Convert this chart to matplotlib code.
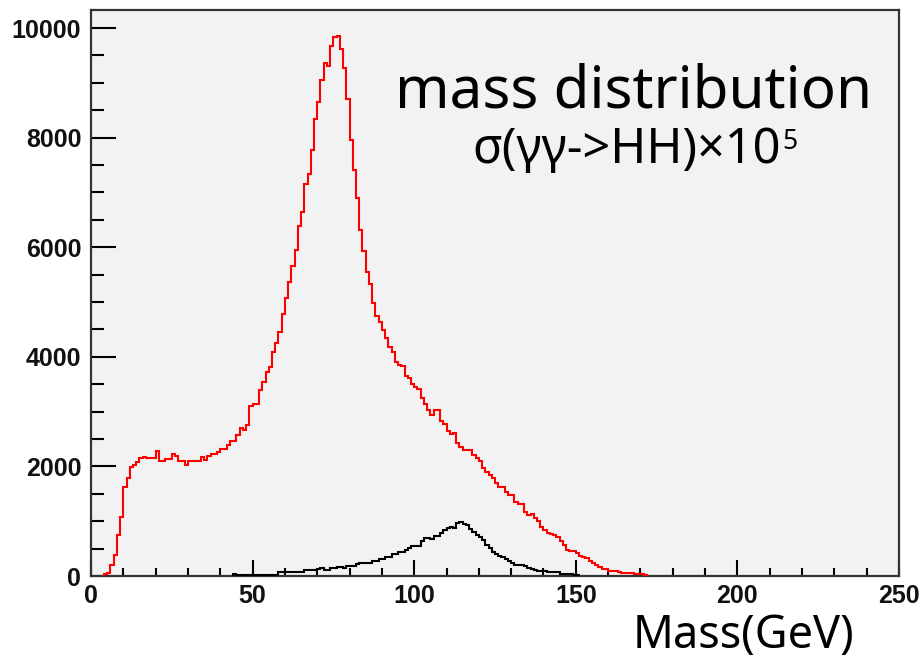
import numpy as np
import matplotlib
matplotlib.use('Agg')
import matplotlib.pyplot as plt
from matplotlib.ticker import MultipleLocator

# Histogram binning: 250 bins of 1 GeV from 0 to 250
n_bins = 250
x_min, x_max = 0, 250

# Red histogram (signal + background), first filled bin and bin contents
red_start = 4
red_counts = [30, 60, 200, 390, 750, 1080, 1630, 1780, 1995, 2025,
              2085, 2145, 2175, 2145, 2145, 2145, 2285, 2105, 2105, 2135,
              2135, 2220, 2190, 2105, 2105, 2025, 2105, 2105, 2105, 2105,
              2175, 2115, 2190, 2220, 2220, 2255, 2310, 2310, 2390, 2470,
              2470, 2575, 2695, 2665, 2755, 3100, 3135, 3135, 3395, 3545,
              3730, 3820, 4080, 4245, 4445, 4780, 5065, 5360, 5655, 5950,
              6385, 6635, 7155, 7335, 7775, 8335, 8655, 9050, 9355, 9305,
              9670, 9840, 9860, 9610, 9275, 8700, 7955, 7410, 6890, 6315,
              5930, 5555, 5325, 4990, 4745, 4640, 4490, 4335, 4185, 4080,
              3910, 3850, 3835, 3650, 3620, 3500, 3450, 3405, 3245, 3135,
              3030, 2940, 3030, 3030, 2830, 2775, 2650, 2585, 2615, 2420,
              2360, 2300, 2300, 2300, 2210, 2150, 2100, 1980, 1890, 1845,
              1780, 1705, 1630, 1630, 1540, 1480, 1480, 1355, 1315, 1315,
              1175, 1115, 1135, 1050, 1000, 900, 840, 780, 770, 740,
              706, 645, 566, 474, 456, 456, 426, 365, 340, 323,
              280, 243, 201, 158, 122, 122, 97, 97, 97, 80,
              61, 61, 61, 61, 40, 30, 30, 20]

# Black histogram (HH), first filled bin and bin contents
black_start = 44
black_counts = [30, 10, 15, 20, 20, 20, 20, 20, 20, 25,
                25, 25, 25, 25, 67, 79, 79, 79, 79, 79,
                79, 79, 103, 103, 103, 103, 122, 140, 110, 110,
                140, 140, 170, 170, 140, 182, 182, 182, 219, 243,
                243, 243, 243, 280, 280, 310, 310, 353, 353, 396,
                396, 432, 432, 474, 517, 547, 547, 547, 645, 688,
                688, 669, 730, 730, 779, 839, 870, 900, 870, 970,
                991, 949, 931, 852, 800, 748, 706, 657, 566, 505,
                444, 396, 370, 341, 304, 274, 231, 201, 201, 201,
                180, 152, 122, 110, 97, 90, 85, 80, 80, 79,
                79, 36, 36, 36, 36, 15, 15]

y_ticks = [0, 2000, 4000, 6000, 8000, 10000]
x_ticks = [0, 50, 100, 150, 200, 250]

W, H = 923, 658
plt.rcParams.update({'font.family': ['Liberation Sans', 'DejaVu Sans']})

fig = plt.figure(figsize=(W / 100, H / 100), dpi=100)
ax = fig.add_axes([91 / W, 1 - 576 / H, (899 - 91) / W, (576 - 10) / H])
ax.set_facecolor('#f2f2f2')

edges = np.linspace(x_min, x_max, n_bins + 1)
red_edges = edges[red_start:red_start + len(red_counts) + 1]
black_edges = edges[black_start:black_start + len(black_counts) + 1]

ax.stairs(red_counts, red_edges, color='#ff0000', linewidth=1.5, baseline=0, zorder=3)
ax.stairs(black_counts, black_edges, color='black', linewidth=1.5, baseline=0, zorder=3)

ax.set_xlim(x_min, x_max)
ax.set_ylim(0, 10330)

ax.set_xticks(x_ticks)
ax.set_yticks(y_ticks)
ax.xaxis.set_minor_locator(MultipleLocator(10))
ax.yaxis.set_minor_locator(MultipleLocator(500))

# ROOT style: inward ticks on left and bottom only
ax.tick_params(axis='y', which='major', direction='in', length=18, width=1.5, pad=7,
               labelsize=18)
ax.tick_params(axis='y', which='minor', direction='in', length=9.5, width=1.5)
ax.tick_params(axis='x', which='major', direction='in', length=11.5, width=1.5, pad=6,
               labelsize=18)
ax.tick_params(axis='x', which='minor', direction='in', length=6, width=1.5)
for lab in ax.get_xticklabels() + ax.get_yticklabels():
    lab.set_fontweight('bold')
    lab.set_color('#111111')

for sp in ax.spines.values():
    sp.set_linewidth(1.6)
    sp.set_color('#333333')

# Titles as free text
title_font = ['Noto Sans', 'DejaVu Sans']

def fig_text(x, y, s, **kw):
    return fig.text(x / W, 1 - y / H, s, va='baseline', ha='left', **kw)

fig_text(395, 108, 'mass distribution', fontsize=42, family=title_font)
sub = fig_text(472, 163, 'σ(γγ->HH)×10', fontsize=35, family=title_font)
# superscript "5": x right after the subtitle, baseline fixed in figure pixels
ax.annotate('5', xy=(1, H - 149), xycoords=(sub, 'figure pixels'),
            xytext=(1, 0), textcoords='offset points',
            fontsize=19, family=title_font, va='baseline', ha='left')
fig_text(633, 648, 'Mass(GeV)', fontsize=32.5, family=title_font)

fig.savefig('out.png', dpi=100)
